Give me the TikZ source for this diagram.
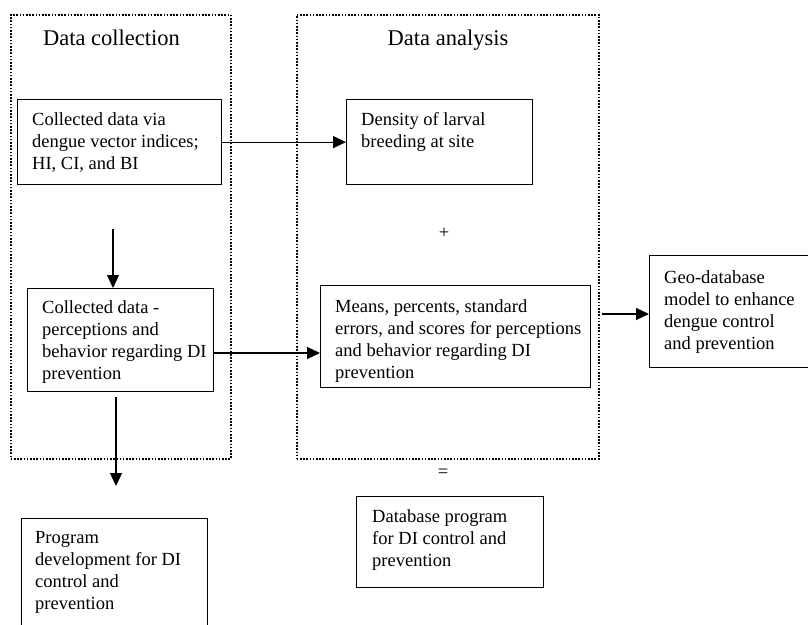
\documentclass[tikz,border=0pt]{standalone}
\usepackage{fontspec}
\setmainfont{Liberation Serif}
\usetikzlibrary{arrows.meta}
\newcommand\btext[1]{\parbox[t]{300pt}{\fontsize{18.5}{22}\selectfont #1}}
\begin{document}
\begin{tikzpicture}[x=1pt,y=-1pt,
  frame/.style={draw, line width=1.6pt, dash pattern=on 1.6pt off 1.6pt, inner sep=0, anchor=north west},
  boxn/.style={draw, line width=1.2pt, inner sep=0, anchor=north west},
  txt/.style={inner sep=0, anchor=base west},
  ttl/.style={inner sep=0, anchor=base, font=\fontsize{22.5}{27}\selectfont},
  sym/.style={inner sep=0, font=\fontsize{18.5}{22}\selectfont},
  arr/.style={line width=1.2pt, -{Triangle[length=13pt,width=12pt]}}]
\useasboundingbox (0,0) rectangle (808,624);
\clip (0,0) rectangle (808,624);
\fill[white] (0,0) rectangle (808,624);
% dotted frames
\node[frame, minimum width=220pt, minimum height=444pt] (fl) at (10,14) {};
\node[frame, minimum width=302pt, minimum height=444pt] (fr) at (296,14) {};
\node[ttl] (tl) at (111.5,45) {Data collection};
\node[ttl] (tr) at (448,45) {Data analysis};
% boxes
\node[boxn, minimum width=204pt, minimum height=85pt] (b1) at (17,99) {};
\node[boxn, minimum width=186pt, minimum height=85pt] (b2) at (346,99) {};
\node[boxn, minimum width=186pt, minimum height=103pt] (b3) at (27,288) {};
\node[boxn, minimum width=270pt, minimum height=102pt] (b4) at (320,285) {};
\node[boxn, minimum width=175pt, minimum height=112pt] (b5) at (649,255) {};
\node[boxn, minimum width=187pt, minimum height=91pt] (b6) at (356,496) {};
\node[boxn, minimum width=186pt, minimum height=130pt] (b7) at (21,518) {};
% texts
\node[txt] (t1) at (32,125) {\btext{Collected data via\\dengue vector indices;\\HI, CI, and BI}};
\node[txt] (t2) at (361,125) {\btext{Density of larval\\breeding at site}};
\node[txt] (t3) at (42,313) {\btext{Collected data -\\perceptions and\\behavior regarding DI\\prevention}};
\node[txt] (t4) at (335,312) {\btext{Means, percents, standard\\errors, and scores for perceptions\\and behavior regarding DI\\prevention}};
\node[txt] (t5) at (664,283) {\btext{Geo-database\\model to enhance\\dengue control\\and prevention}};
\node[txt] (t6) at (372,522) {\btext{Database program\\for DI control and\\prevention}};
\node[txt] (t7) at (35,543) {\btext{Program\\development for DI\\control and\\prevention}};
\node[sym] (plus) at (444,233) {+};
\node[sym] (eq) at (443,473) {=};
% connectors
\draw[arr] (b1) -- (b2);
\coordinate (d1) at (113,229);
\draw[arr] (d1) -- (d1 |- b3.north);
\coordinate (h2) at (0,353);
\draw[arr] (b3.east |- h2) -- (b4.west |- h2);
\coordinate (h3) at (602,314);
\draw[arr] (h3) -- (h3 -| b5.west);
\coordinate (d2a) at (116,397);
\coordinate (d2b) at (116,486);
\draw[arr] (d2a) -- (d2b);
\end{tikzpicture}
\end{document}
